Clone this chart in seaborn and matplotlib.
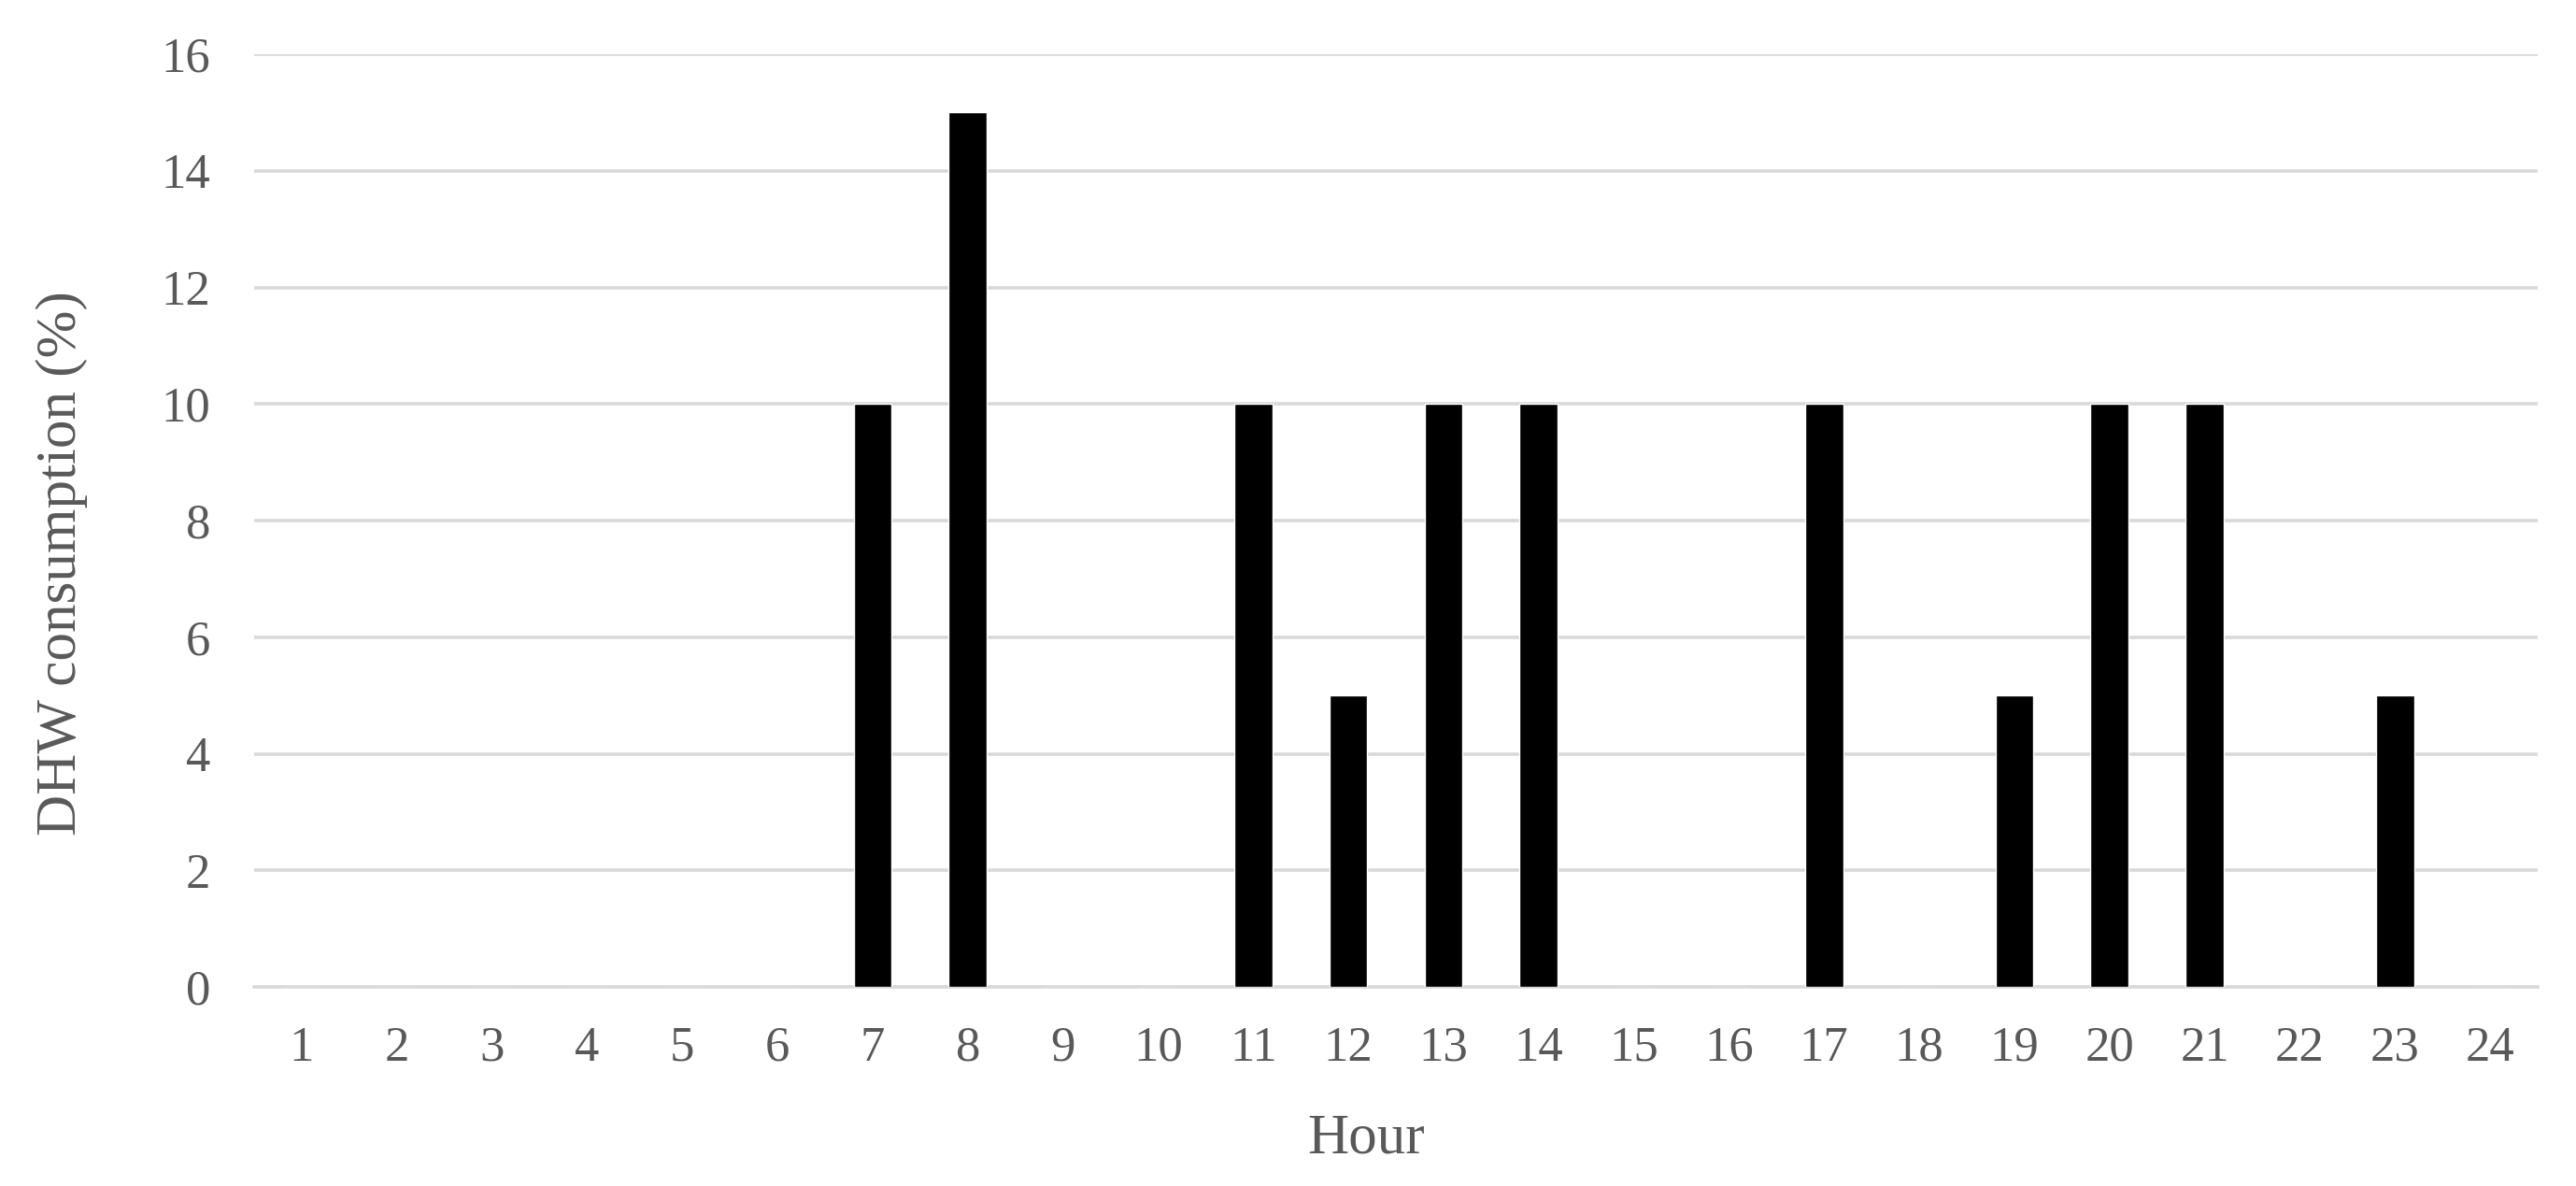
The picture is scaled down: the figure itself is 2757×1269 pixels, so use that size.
import numpy as np
import pandas as pd
import matplotlib
matplotlib.use('Agg')
import matplotlib.pyplot as plt
import seaborn as sns

# hourly domestic hot water consumption profile (%)
hours = list(range(1, 25))
consumption = [0, 0, 0, 0, 0, 0, 10, 15, 0, 0, 10, 5,
               10, 10, 0, 0, 10, 0, 5, 10, 10, 0, 5, 0]
y_ticks = [0, 2, 4, 6, 8, 10, 12, 14, 16]

df = pd.DataFrame({'hour': [str(h) for h in hours], 'dhw': consumption})

sns.set_style('white')
plt.rcParams['font.family'] = ['Liberation Serif', 'DejaVu Serif']
text_col = '#595959'
grid_col = '#d9d9d9'

fig = plt.figure(figsize=(27.57, 12.69), dpi=100)
ax = fig.add_axes([0.0987, 0.1678, 0.8864, 0.7865])

sns.barplot(data=df, x='hour', y='dhw', color='black', saturation=1,
            width=0.4, ax=ax, zorder=3)

ax.set_ylim(0, 16)
ax.set_xlim(-0.5, len(hours) - 0.5)
ax.set_yticks(y_ticks)
ax.yaxis.grid(True, color=grid_col, linewidth=2.6, zorder=0)
ax.set_axisbelow(True)
for s in ['top', 'right', 'left']:
    ax.spines[s].set_visible(False)
ax.spines['bottom'].set_color(grid_col)
ax.spines['bottom'].set_linewidth(2.6)

ax.tick_params(axis='both', length=0, labelsize=38, colors=text_col)
ax.tick_params(axis='x', pad=30)
ax.tick_params(axis='y', pad=34)

ax.set_xlabel('Hour', fontsize=44, color=text_col)
ax.set_ylabel('DHW consumption (%)', fontsize=44, color=text_col)
ax.xaxis.set_label_coords(0.487, -0.135)
ax.yaxis.set_label_coords(-0.073, 0.454)

fig.savefig('out.png', dpi=100)
